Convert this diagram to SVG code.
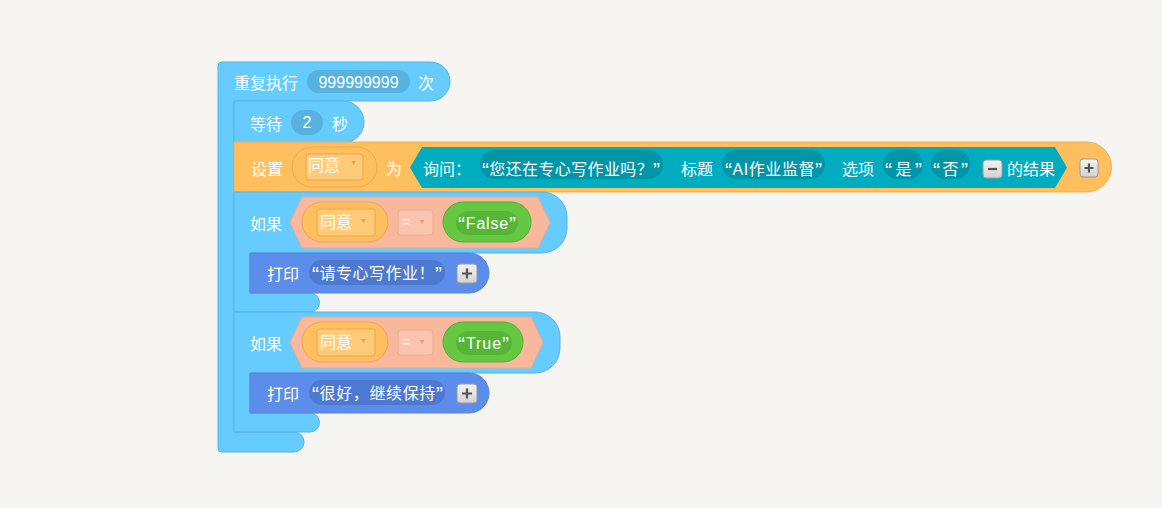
<svg xmlns="http://www.w3.org/2000/svg" width="1162" height="508" viewBox="0 0 1162 508">
<defs>
<style>
.t{font-family:"Liberation Sans","Noto Sans CJK SC",sans-serif;font-size:16px;fill:#ffffff}
.q{font-size:21px}
.ctl{fill:#66CCFF;stroke:#55B4E6;stroke-width:1}
.set{fill:#FFBF5F;stroke:#EEAE55;stroke-width:1}
.ask{fill:#00ACC0}
.askpill{fill:#0096A8}
.bool{fill:#F9B89C;stroke:#EEAA8E;stroke-width:1}
.varo{fill:#FFBF5F;stroke:#EBA955;stroke-width:1}
.vari{fill:#FFCB78;stroke:#E8A650;stroke-width:1}
.eq{fill:#FBC4AE;stroke:#EDAA90;stroke-width:1}
.gro{fill:#66C742;stroke:#55AE36;stroke-width:1}
.gri{fill:#56B536}
.prt{fill:#5C8DEB;stroke:#5482DA;stroke-width:1}
.prtpill{fill:#4E79D0}
.cnt{fill:#58B2DF}
.btn{fill:url(#bg);stroke:#9A9A9A;stroke-width:1}
.sym{stroke:#555555;stroke-width:2.2;fill:none}
</style>
<linearGradient id="bg" x1="0" y1="0" x2="0" y2="1">
<stop offset="0" stop-color="#F4F4F4"/>
<stop offset="1" stop-color="#D2D2D2"/>
</linearGradient>
</defs>
<rect width="1162" height="508" fill="#F6F5F2"/>

<g id="repeat">
<path class="ctl" d="M222,62 H430.5 A19.5,19.5 0 0 1 430.5,101 H234 V432 H294 A10,10 0 0 1 294,452 H222 A4,4 0 0 1 218,448 V66 A4,4 0 0 1 222,62 Z"/>
<text class="t" x="234" y="89">重复执行</text>
<rect class="cnt" x="307" y="70" width="103" height="23" rx="11.5"/>
<text class="t" x="358.5" y="88" text-anchor="middle">999999999</text>
<text class="t" x="418" y="89">次</text>
</g>

<g id="wait">
<path class="ctl" d="M234,101 H343 A21,21 0 0 1 343,143 H234 Z"/>
<text class="t" x="250" y="130">等待</text>
<rect class="cnt" x="291" y="110" width="32" height="25" rx="12.5"/>
<text class="t" x="307" y="128" text-anchor="middle">2</text>
<text class="t" x="332" y="130">秒</text>
</g>

<g id="set">
<path class="set" d="M234,142 H1086.5 A25,25 0 0 1 1086.5,192 H234 Z"/>
<text class="t" x="251" y="175">设置</text>
<rect class="varo" x="292" y="147" width="85" height="40" rx="20"/>
<rect class="vari" x="306" y="154" width="57" height="26" rx="3"/>
<text class="t" x="308" y="171" textLength="32">同意</text>
<path d="M351,161 h5 l-2.5,4 z" fill="#E2A452"/>
<text class="t" x="386" y="175">为</text>
</g>

<g id="ask">
<path class="ask" d="M410,167.5 L422,147 H1055 L1067,167.5 L1055,188 H422 Z"/>
<text class="t" x="423" y="175">询问：</text>
<rect class="askpill" x="480" y="150" width="183" height="29" rx="14.5"/>
<text class="t" x="482" y="175" textLength="178"><tspan class="q" dy="1.5">“</tspan><tspan dy="-1.5">您还在专心写作业吗？</tspan><tspan class="q" dy="1.5">”</tspan></text>
<text class="t" x="681" y="175">标题</text>
<rect class="askpill" x="722" y="150" width="103" height="29" rx="14.5"/>
<text class="t" x="725" y="175" textLength="97"><tspan class="q" dy="1.5">“</tspan><tspan dy="-1.5">AI作业监督</tspan><tspan class="q" dy="1.5">”</tspan></text>
<text class="t" x="842" y="175">选项</text>
<rect class="askpill" x="883" y="150" width="40" height="29" rx="14.5"/>
<text class="t" x="885" y="175" textLength="37"><tspan class="q" dy="1.5">“</tspan><tspan dy="-1.5">是</tspan><tspan class="q" dy="1.5">”</tspan></text>
<rect class="askpill" x="931" y="150" width="39" height="29" rx="14.5"/>
<text class="t" x="933" y="175" textLength="35"><tspan class="q" dy="1.5">“</tspan><tspan dy="-1.5">否</tspan><tspan class="q" dy="1.5">”</tspan></text>
<rect class="btn" x="983" y="160" width="19" height="18" rx="3"/>
<path class="sym" d="M988,169 h9"/>
<text class="t" x="1007" y="175">的结果</text>
</g>

<g id="set-plus">
<rect class="btn" x="1080" y="159" width="18" height="18" rx="3"/>
<path class="sym" d="M1084.5,168 h9 M1089,163.5 v9"/>
</g>

<g id="if1">
<path class="ctl" d="M234,192 H542 A25,25 0 0 1 567,217 V228 A25,25 0 0 1 542,253 H250 V293 H310 A9.5,9.5 0 0 1 310,312 H234 Z"/>
<text class="t" x="250" y="230">如果</text>
<path class="bool" d="M290,222.5 L302,197 H538 L550,222.5 L538,248 H302 Z"/>
<rect class="varo" x="302" y="202" width="86" height="40" rx="20"/>
<rect class="vari" x="317" y="209" width="58" height="27" rx="3"/>
<text class="t" x="320" y="228" textLength="32">同意</text>
<path d="M361,219 h5 l-2.5,4 z" fill="#E2A452"/>
<rect class="eq" x="398" y="210" width="35" height="25" rx="3"/>
<text class="t" x="402" y="227" style="font-size:14px;fill-opacity:0.85">=</text>
<path d="M419.5,220 h5 l-2.5,4 z" fill="#E39E85"/>
<rect class="gro" x="443" y="202" width="88" height="40" rx="20"/>
<rect class="gri" x="456" y="211" width="62" height="24" rx="12"/>
<text class="t" x="458" y="229" textLength="58"><tspan class="q" dy="2">“</tspan><tspan dy="-2">False</tspan><tspan class="q" dy="2">”</tspan></text>
</g>

<g id="print1">
<path class="prt" d="M250,253 H469 A20,20 0 0 1 469,293 H250 Z"/>
<text class="t" x="267" y="280">打印</text>
<rect class="prtpill" x="309" y="260" width="136" height="25" rx="12.5"/>
<text class="t" x="312" y="279" textLength="130"><tspan class="q" dy="1.5">“</tspan><tspan dy="-1.5">请专心写作业！</tspan><tspan class="q" dy="1.5">”</tspan></text>
<rect class="btn" x="457" y="264" width="20" height="19" rx="3"/>
<path class="sym" d="M462,273.5 h10 M467,268.5 v10"/>
</g>

<g id="if2">
<path class="ctl" d="M234,312 H535 A25,25 0 0 1 560,337 V348 A25,25 0 0 1 535,373 H250 V413 H310 A9.5,9.5 0 0 1 310,432 H234 Z"/>
<text class="t" x="250" y="350">如果</text>
<path class="bool" d="M290,342.5 L302,317 H531 L543,342.5 L531,368 H302 Z"/>
<rect class="varo" x="302" y="322" width="86" height="40" rx="20"/>
<rect class="vari" x="317" y="329" width="58" height="27" rx="3"/>
<text class="t" x="320" y="348" textLength="32">同意</text>
<path d="M361,339 h5 l-2.5,4 z" fill="#E2A452"/>
<rect class="eq" x="398" y="330" width="35" height="25" rx="3"/>
<text class="t" x="402" y="347" style="font-size:14px;fill-opacity:0.85">=</text>
<path d="M419.5,340 h5 l-2.5,4 z" fill="#E39E85"/>
<rect class="gro" x="443" y="322" width="80" height="40" rx="20"/>
<rect class="gri" x="456" y="331" width="56" height="24" rx="12"/>
<text class="t" x="458" y="349" textLength="51"><tspan class="q" dy="2">“</tspan><tspan dy="-2">True</tspan><tspan class="q" dy="2">”</tspan></text>
</g>

<g id="print2">
<path class="prt" d="M250,373 H469 A20,20 0 0 1 469,413 H250 Z"/>
<text class="t" x="267" y="400">打印</text>
<rect class="prtpill" x="309" y="380" width="136" height="25" rx="12.5"/>
<text class="t" x="312" y="399" textLength="131"><tspan class="q" dy="1.5">“</tspan><tspan dy="-1.5">很好，继续保持</tspan><tspan class="q" dy="1.5">”</tspan></text>
<rect class="btn" x="457" y="384" width="20" height="19" rx="3"/>
<path class="sym" d="M462,393.5 h10 M467,388.5 v10"/>
</g>

<g id="connectors"></g>
</svg>
